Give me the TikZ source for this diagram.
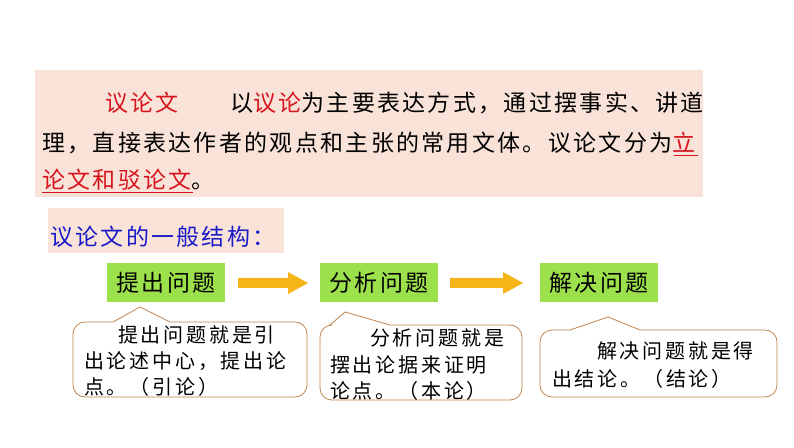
\documentclass[tikz,border=0pt]{standalone}
\usepackage{fontspec}
\newfontfamily\cjk[LetterSpace=10]{Noto Sans CJK SC}
\newfontfamily\cjks[LetterSpace=14]{Noto Sans CJK SC}
\definecolor{pinkbg}{HTML}{F9E3D8}
\definecolor{greenbg}{HTML}{9CE04C}
\definecolor{arr}{HTML}{F5B418}
\definecolor{brd}{HTML}{C08550}
\definecolor{redt}{HTML}{D7141E}
\definecolor{bluet}{HTML}{1A1AC8}
\tikzset{
 line/.style={anchor=west,inner sep=0pt,font=\cjk\fontsize{23}{25}\selectfont},
 small/.style={anchor=west,inner sep=0pt,font=\cjks\fontsize{20}{22}\selectfont},
 gbox/.style={fill=greenbg,minimum width=118pt,minimum height=39pt,inner sep=0pt,font=\cjk\fontsize{23}{25}\selectfont},
 callout/.style={draw=brd,line width=0.8pt,fill=white},
 arrowshape/.style={fill=arr}
}
\begin{document}
\begin{tikzpicture}[x=1pt,y=1pt]
\useasboundingbox (0,0) rectangle (794,447);
\fill[white] (0,0) rectangle (794,447);
\fill[pinkbg] (35,250) rectangle (703,377);
\node[line] (l1a) at (105,344) {\textcolor{redt}{议论文}};
\node[line] (l1b) at (230,344) {以\textcolor{redt}{议论}为主要表达方式，通过摆事实、讲道};
\node[line] (l2) at (42,304) {理，直接表达作者的观点和主张的常用文体。议论文分为\textcolor{redt}{立}};
\node[line] (l3) at (42,267) {\textcolor{redt}{论文和驳论文}。};
\draw[redt,line width=1pt] (674,291) -- (698,291);
\draw[redt,line width=1pt] (42,254) -- (193,254);
\fill[pinkbg] (48,194) rectangle (284,239);
\node[line,text=bluet] (sub) at (50,210) {议论文的一般结构：};
\node[gbox] (b1) at (166,164.5) {提出问题};
\node[gbox] (b2) at (379,164.5) {分析问题};
\node[gbox] (b3) at (599,164) {解决问题};
\fill[arrowshape] (238,169) -- (288,169) -- (288,175) -- (308,164) -- (288,153) -- (288,159) -- (238,159) -- cycle;
\fill[arrowshape] (450,169) -- (503,169) -- (503,175) -- (523,164) -- (503,153) -- (503,159) -- (450,159) -- cycle;
\draw[callout,rounded corners=12pt] (73,50) -- (73,125) [sharp corners]-- (113,125) -- (140,140) -- (170,125) [rounded corners=12pt] -- (307,125) -- (307,50) -- cycle;
\draw[callout,rounded corners=12pt] (320,47) -- (320,122) [sharp corners]-- (330,122) -- (345,135) -- (390,122) [rounded corners=12pt] -- (522,122) -- (522,47) -- cycle;
\draw[callout,rounded corners=12pt] (540,50) -- (540,117) [sharp corners]-- (570,117) -- (608,130) -- (640,117) [rounded corners=12pt] -- (777,117) -- (777,50) -- cycle;
\node[small] (c1a) at (118,112) {提出问题就是引};
\node[small] (c1b) at (84,86) {出论述中心，提出论};
\node[small] (c1c) at (84,60) {点。（引论）};
\node[small] (c2a) at (370,109) {分析问题就是};
\node[small] (c2b) at (330,82) {摆出论据来证明};
\node[small] (c2c) at (330,56) {论点。（本论）};
\node[small] (c3a) at (597,96) {解决问题就是得};
\node[small] (c3b) at (552,68) {出结论。（结论）};
\end{tikzpicture}
\end{document}
